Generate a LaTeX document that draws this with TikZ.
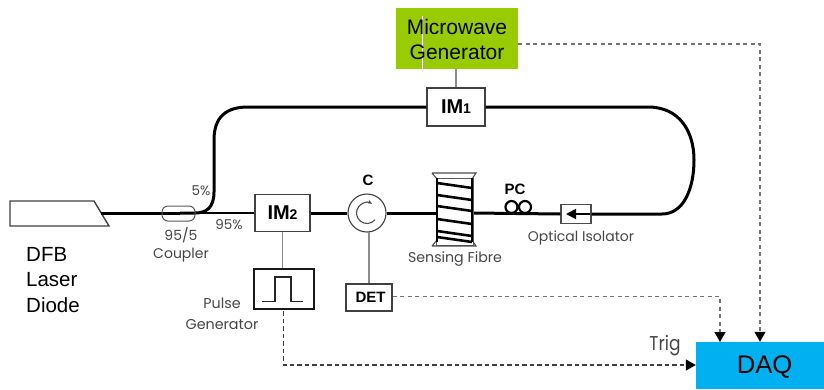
\documentclass[tikz,border=0pt]{standalone}
\usepackage{fontspec}
\setmainfont{Liberation Sans}
\newfontfamily\gothicf{Poppins}
\usetikzlibrary{arrows.meta,calc}
\definecolor{mwgreen}{RGB}{153,204,0}
\definecolor{daqblue}{RGB}{0,176,240}
\definecolor{lbl}{RGB}{70,70,70}
\tikzset{
  x=1pt,y=1pt,
  fibre/.style={draw=black,line width=3pt},
  thinfibre/.style={draw=black,line width=2.2pt},
  wire/.style={draw=black!45,line width=1.5pt},
  sig/.style={draw=black!75,line width=1.3pt,dash pattern=on 4.5pt off 3pt},
  sigl/.style={draw=black!55,line width=1.3pt,dash pattern=on 4pt off 3.5pt},
  arr/.style={-{Triangle[length=10pt,width=11pt,fill=black,black]}},
  imbox/.style={draw=black!75,fill=white,line width=1.3pt,minimum width=#1,inner sep=0pt,font=\bfseries\fontsize{20}{22}\selectfont},
  sans/.style={font=\fontsize{#1}{#1}\selectfont,text=black,inner sep=0pt},
  gothic/.style={font=\gothicf\fontsize{#1}{#1}\selectfont,text=lbl,inner sep=0pt},
}
\begin{document}
\begin{tikzpicture}
\useasboundingbox (0,0) rectangle (824,-389);
% laser
\draw[black!75,line width=1.4pt,fill=white] (10,-201) -- (94,-201) -- (109,-226) -- (10,-226) -- cycle;
\coordinate (laser) at (101,-213);
% boxes
\node[draw=none,fill=mwgreen,minimum width=122pt,minimum height=61pt,inner sep=0pt] (mw) at (457,-38.5) {};
\draw[white,line width=.7pt] (422.5,-16) -- (422.5,-69);
\node[sans=21,anchor=center] (mwa) at (457,-26.5) {Microwave};
\node[sans=21,anchor=center] (mwb) at (457,-52) {Generator};
\node[imbox=58pt,minimum height=38pt] (im1) at (456,-107) {IM\fontsize{14}{14}\selectfont 1};
\node[imbox=55pt,minimum height=37pt] (im2) at (282.5,-213) {IM\fontsize{14}{14}\selectfont 2};
\node[draw=black!90,line width=2pt,fill=white,minimum width=60pt,minimum height=40pt,inner sep=0pt] (pg) at (283.5,-288.5) {};
\draw[black!85,line width=1.9pt] (262,-301.5) -- (275,-301.5) -- (275,-277) -- (291,-277) -- (291,-301.5) -- (303,-301.5);
\node[imbox=46pt,minimum height=27pt,font=\bfseries\fontsize{15}{15}\selectfont] (det) at (369,-297.5) {\hspace{3pt}DET};
\node[fill=daqblue,minimum width=128pt,minimum height=47pt,inner sep=0pt] (daq) at (760,-365.5) {};
\node[sans=25.5] (daqt) at (764.5,-367) {DAQ};
% fibre path
\coordinate (sfL) at (436,-213);
\coordinate (sfR) at (473,-213);
\node[circle,draw=black!75,line width=1.1pt,fill=white,minimum size=38pt,inner sep=0pt] (circ) at (367,-213) {};
\draw[black!70,line width=1.1pt,-{Stealth[length=5pt]}] ([shift={(-40:10.5pt)}]circ.center) arc[start angle=-40,end angle=-300,radius=10.5pt];
\node[draw=black!70,fill=white,line width=1.1pt,minimum width=30pt,minimum height=19pt,inner sep=0pt] (iso) at (576,-214) {};
\draw[thinfibre] (195,-213) -- (im2.west);
\draw[fibre] (laser) -- (180,-213);
\draw[fibre] (im2.east) -- (circ.west);
\draw[fibre] (circ.east) -- (sfL);
\draw[fibre] (sfR) -- (iso.west);
\draw[fibre] (iso.east) -- (662,-214) .. controls (684,-214) and (694,-188) .. (694,-160)
   .. controls (694,-132) and (680,-107) .. (648,-107) -- (im1.east);
\draw[fibre] (im1.west) -- (248,-107) .. controls (226,-107) and (214,-117) .. (214,-140)
   -- (214,-192) .. controls (214,-208) and (206,-213) .. (195,-213) -- (180,-213);
% coupler
\draw[black!65,line width=1pt,rounded corners=6pt] (162,-206) rectangle (195,-221);
% isolator arrow
\draw[black,line width=1.8pt,-{Triangle[length=10pt,width=10pt]}] (590,-214) -- (566,-214);
% PC
\draw[black,line width=2.2pt] (511.5,-207) circle[radius=6pt];
\draw[black,line width=2.2pt] (525,-207) circle[radius=6pt];
% sensing fibre
\draw[black!65,line width=.9pt,fill=white] (436,-178) -- (473,-178) -- (473,-245) -- (436,-245) -- cycle;
\draw[black!70,line width=1.1pt] (432,-173) -- (476,-173) -- (472,-179) (432,-173) -- (437,-179);
\draw[black!70,line width=1.1pt] (432,-246) -- (476,-246) -- (472,-240) (432,-246) -- (437,-240);
\foreach \y in {183,195,206,219,231,237}{
  \draw[black,line width=2.6pt] (437,-\y) -- (472,-\y-5);
}
\draw[black,line width=2pt] (437,-178) -- (437,-242) (472,-178) -- (472,-242);
% thin wires
\draw[wire] (mw.south -| im1.north) -- (im1.north);
\draw[wire] (im2.south) -- (pg.north -| im2.south);
\draw[wire] (369,-232) -- (det.north);
% signals
\draw[sigl,arr] (mw.east |- 0,-44) -- (760,-44) -- (daq.north -| 760,0);
\draw[sigl,arr] (det.east) ++(0,1) -- (720,-296.5) -- (720,-342);
\coordinate (pgout) at (283.5,-311);
\draw[sig,arr] (pgout) -- (283.5,-365) -- (daq.west |- 0,-365);
% labels
\node[sans=20.5,anchor=west] (t1) at (26,-254) {DFB};
\node[sans=20.5,anchor=west] (t2) at (26,-279.5) {Laser};
\node[sans=20.5,anchor=west] (t3) at (26,-305) {Diode};
\node[gothic=13.5] (t4) at (201,-191) {5\%};
\node[gothic=13.5] (t5) at (229,-225) {95\%};
\node[gothic=14] (t6) at (181,-235) {95/5};
\node[gothic=14] (t7) at (181,-255) {Coupler};
\node[gothic=14.3] (t8) at (222,-303) {Pulse};
\node[gothic=14.3] (t9) at (222,-325) {Generator};
\node[font=\bfseries\fontsize{15}{15}\selectfont,inner sep=0pt] (t10) at (368,-180) {C};
\node[font=\bfseries\fontsize{15}{15}\selectfont,inner sep=0pt] (t11) at (515,-189) {PC};
\node[gothic=14] (t12) at (581,-238) {Optical Isolator};
\node[gothic=14.2] (t13) at (455,-259) {Sensing Fibre};
\node[gothic=20,xscale=.85] (t14) at (665,-346) {Trig};
\end{tikzpicture}
\end{document}
